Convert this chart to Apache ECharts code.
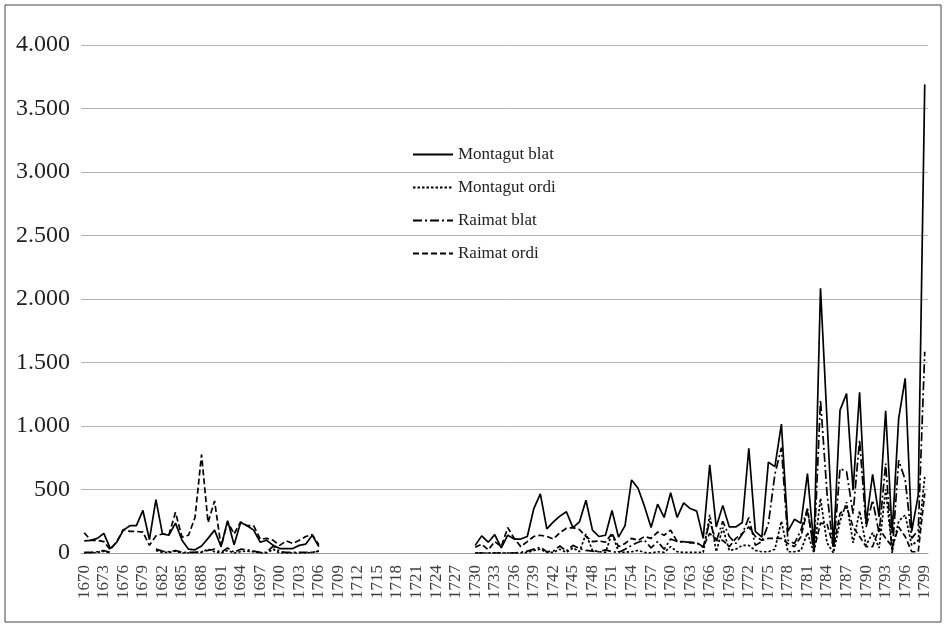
<!DOCTYPE html>
<html>
<head>
<meta charset="utf-8">
<script src="https://cdn.jsdelivr.net/npm/echarts@6/dist/echarts.min.js"></script>
<style>
html,body{margin:0;padding:0;background:#fff;}
#chart{width:946px;height:629px;}
</style>
</head>
<body>
<div id="chart"></div>
<script>
// Years 1670-1799
const years = [];
for (let y = 1670; y <= 1799; y++) years.push(String(y));

const gap = new Array(23).fill(null); // 1707-1729
const gap6 = new Array(6).fill(null); // 1675-1680

const montagutBlatEarly = [95,100,115,155,35,85,180,215,215,335,105,420,150,140,235,100,30,25,55,115,180,50,255,65,240,215,180,85,100,60,35,35,35,60,70,140,50];
const montagutBlatLate = [60,135,85,145,40,140,110,110,130,350,465,190,245,290,325,200,245,415,180,130,140,335,125,215,575,510,365,200,385,280,475,280,395,350,330,115,695,205,375,205,205,240,825,170,125,715,680,1015,170,265,235,625,50,2085,1050,50,1125,1255,495,1265,235,620,285,1120,155,1060,1375,170,455,3690];

const montagutOrdiEarly = [0,0,5,15,0].concat(gap6, [20,5,5,15,0,0,5,5,30,10,0,20,0,10,15,10,0,0,30,0,0,0,0,0,5,15]);
const montagutOrdiLate = [0,0,0,0,0,0,0,0,5,20,30,5,5,30,5,40,10,150,20,10,5,155,10,5,10,20,5,0,10,5,50,10,5,5,5,5,300,10,200,20,30,60,60,20,10,10,30,250,10,10,20,160,0,430,80,0,250,400,80,330,60,160,40,500,20,250,300,60,100,600];

const raimatBlatEarly = [5,5,10,20,5].concat(gap6, [30,15,10,20,5,5,5,10,20,30,5,40,5,30,25,15,5,5,55,10,5,5,5,5,5,15]);
const raimatBlatLate = [0,0,0,0,0,0,0,5,15,30,45,10,15,55,15,60,35,20,15,10,25,10,5,30,60,85,100,40,90,30,110,90,85,85,80,45,250,90,250,130,75,150,280,60,90,230,620,830,100,75,180,350,10,1205,470,20,665,640,310,890,205,415,155,705,0,730,575,115,180,1585];

const raimatOrdiEarly = [160,100,100,90,25,90,185,170,170,165,60,135,150,145,320,125,140,280,775,240,410,50,245,150,245,215,215,110,115,100,60,95,75,100,130,145,65];
const raimatOrdiLate = [45,70,25,90,50,200,115,50,90,130,140,130,110,160,195,200,185,130,90,95,85,155,50,75,115,100,130,115,165,140,180,90,90,80,80,50,155,100,100,50,115,155,205,130,100,115,115,115,75,50,130,340,25,235,230,50,310,365,205,130,50,50,195,115,50,205,130,10,10,470];

const seriesNames = ['Montagut blat','Montagut ordi','Raimat blat','Raimat ordi'];
const seriesData = [
  montagutBlatEarly.concat(gap, montagutBlatLate),
  montagutOrdiEarly.concat(gap, montagutOrdiLate),
  raimatBlatEarly.concat(gap, raimatBlatLate),
  raimatOrdiEarly.concat(gap, raimatOrdiLate)
];
const dashTypes = ['solid', [2.5,2], [9,3,2,3], [6,3]];

const chart = echarts.init(document.getElementById('chart'), null, {renderer:'canvas'});
const serif = '"Liberation Serif","DejaVu Serif",serif';
chart.setOption({
  animation:false,
  backgroundColor:'#fff',
  graphic:[{type:'rect',shape:{x:5,y:5,width:936,height:617},style:{fill:'none',stroke:'#444',lineWidth:1}}],
  grid:{left:81,right:18,top:45,bottom:76},
  legend:{
    orient:'vertical', left:407, top:141, itemWidth:40, itemHeight:14, itemGap:16,
    textStyle:{fontFamily:serif,fontSize:17,color:'#222'},
    itemStyle:{opacity:0},
    data:seriesNames
  },
  xAxis:{
    type:'category', data:years, boundaryGap:true,
    axisLine:{lineStyle:{color:'#999',width:1}},
    axisTick:{interval:0,length:4,lineStyle:{color:'#999'}},
    axisLabel:{interval:2,rotate:90,fontFamily:serif,fontSize:17,color:'#404040',margin:12}
  },
  yAxis:{
    type:'value', min:0, max:4000, interval:500,
    axisLine:{show:false}, axisTick:{show:false},
    splitLine:{lineStyle:{color:'#b5b5b5',width:1}},
    axisLabel:{fontFamily:serif,fontSize:24,color:'#222',margin:11,
      formatter:function(v){return String(v).replace(/\B(?=(\d{3})+(?!\d))/g,'.');}}
  },
  series: seriesNames.map(function(n,i){
    return {name:n,type:'line',data:seriesData[i],symbol:'none',connectNulls:false,
      lineStyle:{color:'#000',width:1.7,type:dashTypes[i]},itemStyle:{color:'#000'}};
  })
});
</script>
</body>
</html>
